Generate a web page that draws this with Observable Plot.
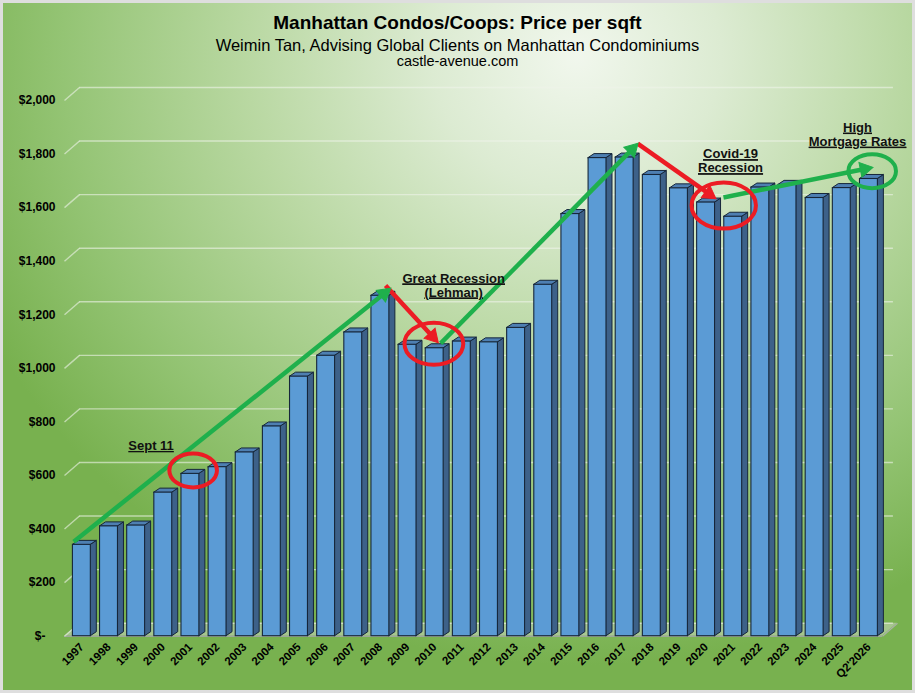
<!DOCTYPE html>
<html>
<head>
<meta charset="utf-8">
<script src="https://cdn.jsdelivr.net/npm/d3@7"></script>
<script src="https://cdn.jsdelivr.net/npm/@observablehq/plot@0.6"></script>
<style>
  html, body { margin: 0; padding: 0; background: #ffffff; }
  #chart {
    position: relative; width: 915px; height: 693px; overflow: hidden;
    font-family: "Liberation Sans", Arial, sans-serif; color: #000;
    background: radial-gradient(ellipse 72% 88% at 63% 8%, #f1f7ed 0%, #dcebd2 22%, #b9d8a2 50%, #94c474 78%, #78b14f 100%);
  }
  #frame { position: absolute; left: 0; top: 0; right: 0; bottom: 0; border: 3px solid #dedede; pointer-events: none; }
  .hd { position: absolute; left: 0; width: 915px; text-align: center; white-space: nowrap; }
  #t1 { top: 12px; font-size: 19px; line-height: 22px; font-weight: bold; }
  #t2 { top: 35px; font-size: 16.5px; line-height: 20px; }
  #t3 { top: 53px; font-size: 14.5px; line-height: 16px; }
  #plot { position: absolute; left: 0; top: 75px; }
</style>
</head>
<body>
<div id="chart">
  <div class="hd" id="t1">Manhattan Condos/Coops: Price per sqft</div>
  <div class="hd" id="t2">Weimin Tan, Advising Global Clients on Manhattan Condominiums</div>
  <div class="hd" id="t3">castle-avenue.com</div>
  <div id="plot"></div>
  <div id="frame"></div>
</div>
<script>
// ---------- data ----------
const years = ["1997","1998","1999","2000","2001","2002","2003","2004","2005","2006",
  "2007","2008","2009","2010","2011","2012","2013","2014","2015","2016",
  "2017","2018","2019","2020","2021","2022","2023","2024","2025","Q2'2026"];
const prices = [341,410,413,536,606,631,686,783,969,1047,
  1134,1271,1088,1075,1100,1097,1151,1312,1576,1785,
  1787,1722,1672,1619,1566,1675,1685,1636,1673,1707];
const yTicks = [0,200,400,600,800,1000,1200,1400,1600,1800,2000];

// annotation arrows (x in bar index units, y in $/sqft)
const arrowKind = ["up","down","up","down","up"];
const arrowX1 = [-0.3, 11.19, 13.22, 20.48, 23.64];
const arrowY1 = [353, 1309, 1093, 1839, 1638];
const arrowX2 = [11.37, 13.12, 20.48, 23.35, 29.13];
const arrowY2 = [1298, 1097, 1839, 1634, 1750];

// annotation circles
const circleKind = ["down","down","down","up"];
const circleX = [4.10, 12.97, 23.65, 29.12];
const circleY = [619, 1092, 1608, 1736];

// annotation labels
const noteText = ["Sept 11", "Great Recession\n(Lehman)", "Covid-19\nRecession", "High\nMortgage Rates"];
const noteX = [2.55, 13.70, 23.90, 28.58];
const noteY = [712, 1311, 1775, 1874];

// ---------- layout ----------
const W = 915, H = 618;
const mL = 64, mR = 33, mT = 25, mB = 57.3;
const xMin = -0.64, xMax = 29.5, yMin = 0, yMax = 2000;
const kx = (W - mL - mR) / (xMax - xMin);   // px per index unit
const ky = (H - mT - mB) / (yMax - yMin);   // px per $
const bh = 0.33;                 // half bar width (index units)
const bdx = 6 / kx, bdy = 4 / ky;     // bar depth
const wdx = 15 / kx, wdy = 13 / ky;   // wall depth
const headBack = 8;                   // px from arrow tip to head centre

const bars = years.map((label, i) => ({i, label, v: prices[i]}));
const sideFaces = bars.flatMap(d => [
  {i: d.i, x: d.i + bh, y1: 0, y2: d.v},
  {i: d.i, x: d.i + bh + bdx, y1: bdy, y2: d.v + bdy}
]);
const topFaces = bars.flatMap(d => [
  {i: d.i, y: d.v, x1: d.i - bh, x2: d.i + bh},
  {i: d.i, y: d.v + bdy, x1: d.i - bh + bdx, x2: d.i + bh + bdx}
]);
const floor = [
  {y: 0, x1: xMin, x2: xMax},
  {y: wdy, x1: xMin + wdx, x2: xMax + wdx}
];

const arrows = arrowKind.map((k, j) => {
  const x1 = arrowX1[j], y1 = arrowY1[j], x2 = arrowX2[j], y2 = arrowY2[j];
  const px = (x2 - x1) * kx, py = -(y2 - y1) * ky;  // pixel direction (y down)
  const len = Math.hypot(px, py);
  const ux = px / len, uy = py / len;
  const hx = x2 - ux * headBack / kx, hy = y2 + uy * headBack / ky;
  const angle = Math.atan2(px, -py) * 180 / Math.PI;
  return {k, x1, y1, x2, y2, hx, hy, angle};
});
const circleR = [17, 21, 23, 17];
const circles = circleKind.map((k, j) => ({k, x: circleX[j], y: circleY[j], r: circleR[j]}));
const notes = noteText.map((t, j) => ({t, x: noteX[j], y: noteY[j]}));

// ellipse symbol for annotation rings
const ellipse = {
  draw(ctx, size) {
    const r = Math.sqrt(size / Math.PI), a = r * 1.4, b = r, k = 0.5523;
    ctx.moveTo(a, 0);
    ctx.bezierCurveTo(a, b * k, a * k, b, 0, b);
    ctx.bezierCurveTo(-a * k, b, -a, b * k, -a, 0);
    ctx.bezierCurveTo(-a, -b * k, -a * k, -b, 0, -b);
    ctx.bezierCurveTo(a * k, -b, a, -b * k, a, 0);
    ctx.closePath();
  }
};

const fmt = d => d === 0 ? "$-\u00a0\u00a0\u00a0" : "$" + d3.format(",")(d);
const outline = "#16263a";

const chart = Plot.plot({
  width: W, height: H,
  marginLeft: mL, marginRight: mR, marginTop: mT, marginBottom: mB,
  x: {type: "linear", domain: [xMin, xMax]},
  y: {domain: [yMin, yMax]},
  r: {type: "linear", domain: [0, 40], range: [0, 40]},
  color: {domain: ["up", "down"], range: ["#1fb04c", "#ec1c24"]},
  style: {background: "transparent", fontFamily: "'Liberation Sans', Arial, sans-serif", fontWeight: "bold", color: "#000", overflow: "visible"},
  marks: [
    // floor
    Plot.areaX(floor, {y: "y", x1: "x1", x2: "x2", fill: "#d2dccb", fillOpacity: 0.5}),
    Plot.ruleY([0], {x1: () => xMin, x2: () => xMax, stroke: "#9ea89a", strokeWidth: 1.5}),
    Plot.link([0], {x1: () => xMax, y1: 0, x2: () => xMax + wdx, y2: () => wdy, stroke: "#a8b2a4", strokeWidth: 1.2}),
    // back-wall gridlines + side-wall diagonals
    Plot.ruleY(yTicks, {y: d => d + wdy, x1: () => xMin + wdx, x2: () => xMax + wdx - 0.15, stroke: "#eef3ea", strokeOpacity: 0.6, strokeWidth: 1.4}),
    Plot.link(yTicks, {x1: () => xMin, y1: d => d, x2: () => xMin + wdx, y2: d => d + wdy, stroke: "#eef3ea", strokeOpacity: 0.6, strokeWidth: 1.4}),
    // 3D bars
    Plot.areaY(sideFaces, {x: "x", y1: "y1", y2: "y2", z: "i", fill: "#3d6189", stroke: outline, strokeWidth: 1}),
    Plot.areaX(topFaces, {y: "y", x1: "x1", x2: "x2", z: "i", fill: "#4e7fb2", stroke: outline, strokeWidth: 1}),
    Plot.rectY(bars, {x1: d => d.i - bh, x2: d => d.i + bh, y1: 0, y2: "v", fill: "#5b9bd5", stroke: outline, strokeWidth: 1.1}),
    // axes
    Plot.axisY(yTicks, {anchor: "left", tickSize: 0, tickPadding: 9, tickFormat: fmt, fontSize: 12, fontWeight: "bold", label: null}),
    Plot.axisX(d3.range(years.length), {anchor: "bottom", tickSize: 0, tickPadding: 9, tickRotate: -45, tickFormat: i => years[i], fontSize: 11.5, fontWeight: "bold", label: null}),
    // annotations: arrows (shaft + filled head)
    Plot.link(arrows, {x1: "x1", y1: "y1", x2: "hx", y2: "hy", stroke: "k", strokeWidth: 4.5}),
    Plot.dot(arrows, {x: "hx", y: "hy", r: () => 5.5, symbol: "triangle", rotate: "angle", fill: "k", stroke: "k", strokeWidth: 1}),
    // rings
    Plot.dot(circles, {x: "x", y: "y", r: "r", symbol: ellipse, stroke: "k", fill: "none", strokeWidth: 4}),
    // labels
    Plot.text(notes, {x: "x", y: "y", text: "t", fontSize: 13, fontWeight: "bold", lineHeight: 1.08, fill: "#111"})
  ]
});
d3.select(chart).selectAll('g[aria-label="text"] text, g[aria-label="text"] tspan')
  .style("text-decoration", "underline");
document.getElementById("plot").appendChild(chart);
</script>
</body>
</html>
